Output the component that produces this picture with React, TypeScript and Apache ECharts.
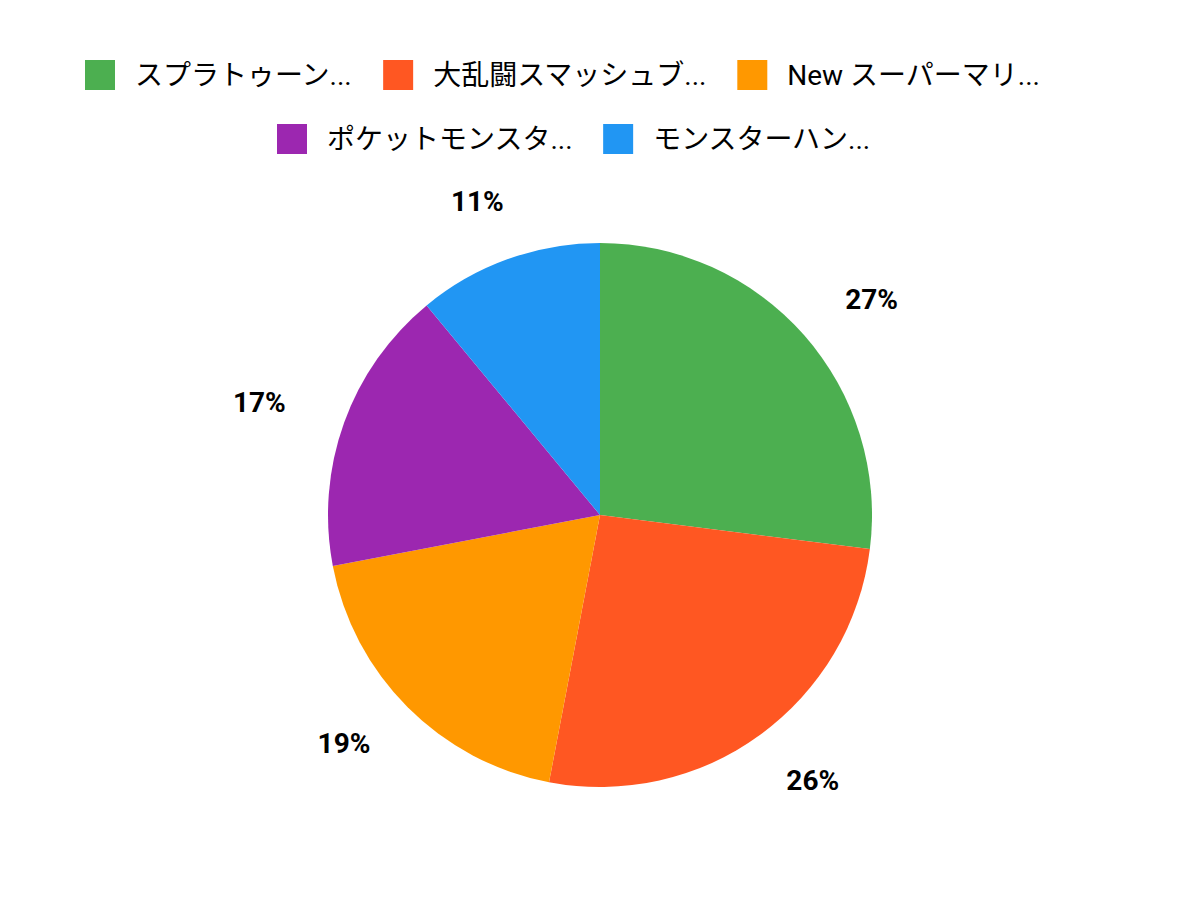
import React, { useEffect, useRef } from "react";
import * as echarts from "echarts";

// ゲームタイトル別の構成比
const titles = [
  "スプラトゥーン3 (Switch)",
  "大乱闘スマッシュブラザーズ SPECIAL",
  "New スーパーマリオブラザーズ U デラックス",
  "ポケットモンスター スカーレット・バイオレット",
  "モンスターハンターストーリーズ1・2",
];
const shares = [27, 26, 19, 17, 11];
const colors = ["#4CAF50", "#FF5722", "#FF9800", "#9C27B0", "#2196F3"];

const FONT = "Roboto, 'Noto Sans CJK JP', sans-serif";
const PIE_CY = 515;
const PIE_R = 272;
const LABEL_R = 362; // ラベル中心までの距離
const LABEL_LIFT = 27; // 上下方向の寄せ
const LEGEND_TEXT_W = [229, 279, 280, 255, 229]; // 凡例テキストの最大幅

const App: React.FC = () => {
  const chartRef = useRef<HTMLDivElement>(null);

  useEffect(() => {
    if (!chartRef.current) return;
    const chart = echarts.init(chartRef.current, null, { renderer: "svg" });

    const legendBase = {
      itemWidth: 30,
      itemHeight: 30,
      itemGap: 30,
      padding: 0,
      icon: "rect",
      textStyle: {
        fontSize: 28,
        color: "#000",
        fontFamily: FONT,
        overflow: "truncate",
        padding: [0, 0, 0, 15],
      },
    };

    const legendItems = titles.map((name, i) => ({
      name,
      textStyle: { width: LEGEND_TEXT_W[i], overflow: "truncate" },
    }));

    const data = titles.map((name, i) => ({
      name,
      value: shares[i],
      itemStyle: { color: colors[i] },
    }));

    chart.setOption({
      animation: false,
      textStyle: { fontFamily: FONT },
      legend: [
        { ...legendBase, data: legendItems.slice(0, 3), top: 60, left: 85 },
        { ...legendBase, data: legendItems.slice(3), top: 124, left: 277 },
      ],
      series: [
        {
          type: "pie",
          center: ["50%", PIE_CY],
          radius: PIE_R,
          startAngle: 90,
          clockwise: true,
          label: { show: false },
          labelLine: { show: false },
          emphasis: { disabled: true },
          data,
        },
        {
          // ラベル配置用の透明リング
          type: "pie",
          center: ["50%", PIE_CY],
          radius: [PIE_R + 40, PIE_R + 44],
          startAngle: 90,
          clockwise: true,
          silent: true,
          percentPrecision: 0,
          itemStyle: { color: "transparent" },
          label: {
            show: true,
            position: "inside",
            formatter: "{d}%",
            fontSize: 28,
            fontWeight: "bold",
            color: "#000",
            fontFamily: FONT,
          },
          labelLine: { show: false },
          emphasis: { disabled: true },
          // 扇形の中央方向へ外側に配置する
          labelLayout: (params: any) => {
            const r = params.labelRect;
            const cx = chart.getWidth() / 2;
            const lx = r.x + r.width / 2;
            const ly = r.y + r.height / 2;
            const vx = lx - cx;
            const vy = ly - PIE_CY;
            const d = Math.hypot(vx, vy) || 1;
            const ux = vx / d;
            const uy = vy / d;
            const m = Math.max(Math.abs(ux), Math.abs(uy));
            const tx = cx + LABEL_R * ux;
            const ty = PIE_CY + LABEL_R * uy - (LABEL_LIFT * uy) / m;
            return { dx: tx - lx, dy: ty - ly };
          },
          data: titles.map((name, i) => ({ name, value: shares[i] })),
        },
      ],
    });

    return () => {
      chart.dispose();
    };
  }, []);

  return (
    <div
      ref={chartRef}
      style={{ width: "1200px", height: "900px", margin: "-8px" }}
    ></div>
  );
};

export default App;
